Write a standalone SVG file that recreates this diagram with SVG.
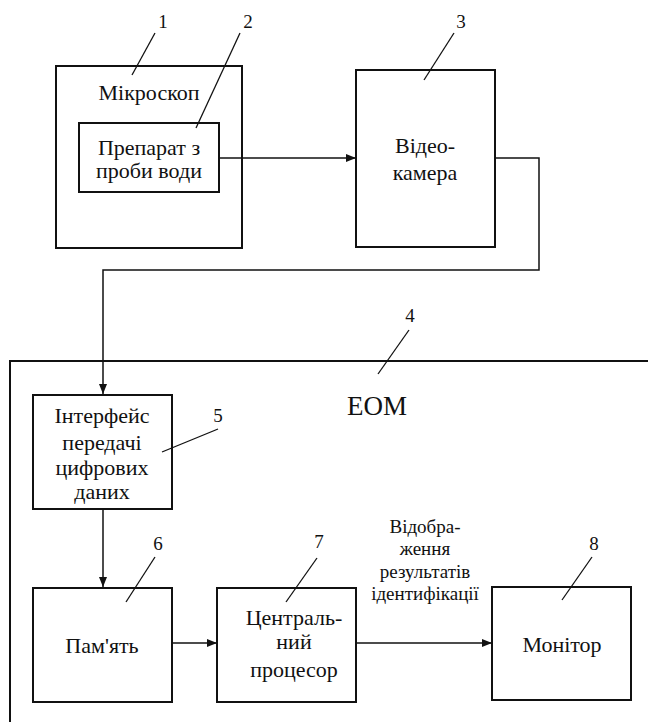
<svg xmlns="http://www.w3.org/2000/svg" width="648" height="722" viewBox="0 0 648 722">
<style>
.box{fill:none;stroke:#111;stroke-width:2}
.ln{fill:none;stroke:#111;stroke-width:1.5}
.ld{fill:none;stroke:#111;stroke-width:1.3}
text{font-family:'Liberation Serif',Tinos,'Noto Serif','DejaVu Serif',FreeSerif,Times,serif;fill:#111;text-anchor:middle}
.t{font-size:22px}
.s{font-size:19px}
.n{font-size:19px}
.big{font-size:27px}
</style>
<defs>
<marker id="ah" markerWidth="10" markerHeight="8" refX="10" refY="4" orient="auto" markerUnits="userSpaceOnUse">
<path d="M0,0 L10,4 L0,8 Z" fill="#111"/>
</marker>
</defs>
<rect width="648" height="722" fill="#fff"/>

<g id="n4">
<path class="box" d="M648,361 L10,361 L10,722"/>
<text class="big" x="377" y="415">ЕОМ</text>
<text class="n" x="410" y="322">4</text>
<line class="ld" x1="409" y1="330" x2="378" y2="374"/>
</g>

<g id="n1">
<rect class="box" x="56" y="66" width="186" height="182"/>
<text class="t" x="149" y="100">Мікроскоп</text>
<text class="n" x="163" y="28">1</text>
<line class="ld" x1="155" y1="33" x2="132" y2="75"/>
</g>

<g id="n2">
<rect class="box" x="79" y="123" width="140" height="69"/>
<text class="t" x="149" y="155">Препарат з</text>
<text class="t" x="149" y="178">проби води</text>
<text class="n" x="248" y="28">2</text>
<line class="ld" x1="240" y1="33" x2="196" y2="128"/>
</g>

<g id="n3">
<rect class="box" x="356" y="70" width="139" height="177"/>
<text class="t" x="425" y="153">Відео-</text>
<text class="t" x="425" y="180">камера</text>
<text class="n" x="461" y="28">3</text>
<line class="ld" x1="454" y1="33" x2="424" y2="80"/>
</g>

<g id="n5">
<rect class="box" x="33" y="395" width="139" height="114"/>
<text class="t" x="102" y="423">Інтерфейс</text>
<text class="t" x="102" y="450">передачі</text>
<text class="t" x="102" y="475">цифрових</text>
<text class="t" x="102" y="499">даних</text>
<text class="n" x="218" y="422">5</text>
<line class="ld" x1="218" y1="429" x2="162" y2="452"/>
</g>

<g id="n6">
<rect class="box" x="33" y="588" width="139" height="114"/>
<text class="t" x="102" y="653">Пам'ять</text>
<text class="n" x="158" y="550">6</text>
<line class="ld" x1="155" y1="557" x2="126" y2="602"/>
</g>

<g id="n7">
<rect class="box" x="217" y="588" width="139" height="114"/>
<text class="t" x="294" y="625">Централь-</text>
<text class="t" x="294" y="649">ний</text>
<text class="t" x="294" y="677">процесор</text>
<text class="n" x="319" y="548">7</text>
<line class="ld" x1="317" y1="558" x2="286" y2="602"/>
</g>

<g id="n8">
<rect class="box" x="492" y="587" width="139" height="113"/>
<text class="t" x="562" y="652">Монітор</text>
<text class="n" x="594" y="550">8</text>
<line class="ld" x1="592" y1="557" x2="562" y2="600"/>
</g>

<g id="connectors">
<line class="ln" x1="219" y1="158" x2="356" y2="158" marker-end="url(#ah)"/>
<path class="ln" d="M495,158 L539,158 L539,270 L103,270 L103,394" marker-end="url(#ah)"/>
<line class="ln" x1="103" y1="509" x2="103" y2="587" marker-end="url(#ah)"/>
<line class="ln" x1="172" y1="643" x2="217" y2="643" marker-end="url(#ah)"/>
<line class="ln" x1="356" y1="643" x2="492" y2="643" marker-end="url(#ah)"/>
<text class="s" x="425" y="533">Відобра-</text>
<text class="s" x="425" y="555">ження</text>
<text class="s" x="425" y="578">результатів</text>
<text class="s" x="425" y="600">ідентифікації</text>
</g>
</svg>
